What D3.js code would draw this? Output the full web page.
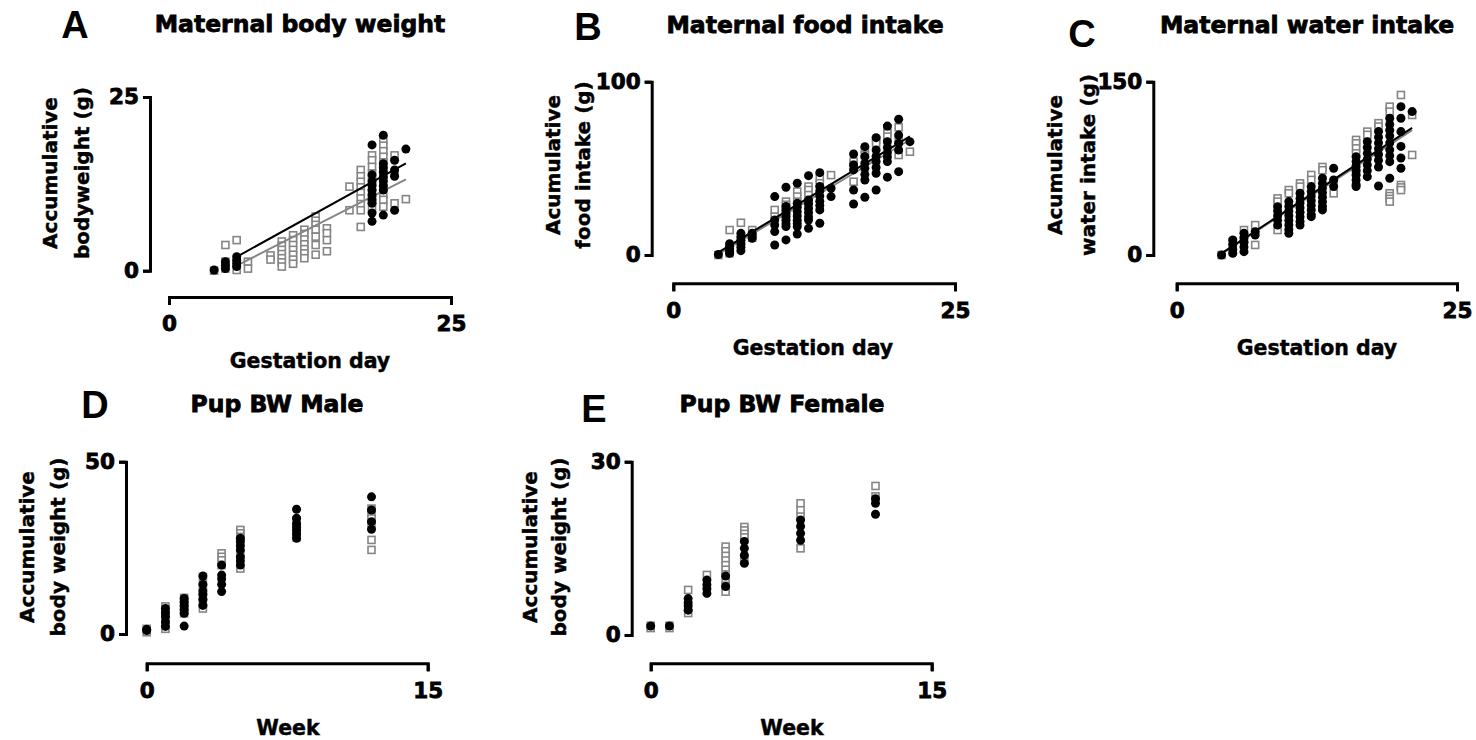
<!DOCTYPE html>
<html>
<head>
<meta charset="utf-8">
<script src="https://cdn.jsdelivr.net/npm/d3@7"></script>
<style>
  body { margin: 0; background: #fff; }
  text { font-family: "DejaVu Sans", "Liberation Sans", sans-serif; font-weight: 700; fill: #000; }
  .heavy { stroke: #000; stroke-width: 0.8px; }
  .semi { stroke: #000; stroke-width: 0.45px; }
</style>
</head>
<body>
<div id="viz"></div>
<script>
// ---- data ----
// maternal panels: gestation days
const gestDays = [4, 5, 6, 7, 9, 10, 11, 12, 13, 14, 16, 17, 18, 19, 20, 21];
// pup panels: weeks
const pupWeeks = [0, 1, 2, 3, 4, 5, 8, 12];

// A: maternal body weight (g)
const bwBlack = [[0.1], [1.3, 0.8, 0.3], [2.0, 1.5, 1.05, 0.6], [], [], [], [], [], [], [], [], [],
  [18.1, 13.8, 12.9, 12.3, 11.6, 10.9, 10.2, 9.7, 8.3, 7.1],
  [19.5, 15.4, 14.8, 14.2, 13.5, 12.9, 12.2, 11.6, 8.0],
  [15.9, 14.5, 13.6, 8.7], [17.5]];
const bwGray = [[0], [3.7, 1.3, 0.3], [4.4, 0.1], [1.3, 0.3], [2.2, 1.6],
  [4.2, 3.6, 3.0, 2.4, 1.8, 1.2, 0.6], [5.1, 4.4, 3.7, 3.0, 2.3, 1.6, 1.0],
  [5.9, 5.3, 4.5, 3.8, 3.1, 2.5, 1.8], [7.8, 7.2, 6.6, 5.9, 4.9, 3.7, 2.3],
  [6.1, 5.4, 4.4, 2.8], [12.1, 8.7],
  [14.5, 13.6, 12.8, 12.0, 11.2, 10.4, 9.6, 8.7, 6.3],
  [16.6, 15.9, 14.95, 14.0, 13.1, 12.1, 11.1, 10.2, 9.0],
  [18.8, 18.0, 17.2, 16.4, 15.6, 14.5, 13.3, 12.0, 11.0, 10.2, 9.2],
  [16.6, 14.0, 9.7], [10.3]];
const bwFitBlack = [[6, 2.0], [21, 15.45]];
const bwFitGray = [[6, 0.73], [21, 13.15]];

// B: maternal food intake (g)
const fiBlack = [[0.3], [6.5, 5, 3.5, 2, 1], [12.5, 10.5, 8.5, 6.5, 4.5, 2.5], [12.5, 11, 9.6],
  [33.7, 20.2, 17.3, 13.5, 5.8], [39.1, 28, 26, 24, 22, 20, 18, 16.4, 8.7],
  [41.4, 29.8, 27.5, 25, 22.5, 20, 18, 16.4, 12.1], [45.8, 31.7, 29.5, 27, 24.5, 22, 20.2, 15.4],
  [47.5, 39.5, 37, 34, 31, 28.5, 26, 18.3], [38.5, 33.7],
  [58.3, 52, 49.1, 37.5, 29.4], [62.5, 56.8, 53, 50, 46.5, 43.3, 33.3],
  [67.7, 60.6, 57, 54, 50.5, 47.2, 37.5], [74.4, 65.4, 62, 59, 56.5, 53.9, 44.9],
  [78.3, 69.2, 64.5, 60.6, 48.1], [65.4]];
const fiGray = [[0], [14.4, 4.8, 1], [18.6, 8], [14.4, 10], [26.0, 22.1], [30.8, 29, 26, 23],
  [36.6, 33.7, 30.8], [39.5, 37.5, 34.6, 31.7], [44.2, 41.4], [46.1],
  [53.9, 52, 42.3], [60.6, 57.7], [66.4, 64.5], [73.1, 70.2, 68.3], [73.7, 66.4, 57.7], [59.6]];
const fiFitBlack = [[4, 1.5], [21, 68.5]];
const fiFitGray = [[4, 0.5], [21, 66.5]];

// C: maternal water intake (g)
const wiBlack = [[0], [13, 9, 5, 1.5], [18.8, 15, 11, 7, 2.9], [20.2, 17.3],
  [41.8, 38, 34, 30, 25.9], [46.2, 42, 38, 34, 30, 26, 22, 18.8],
  [53.4, 49, 45, 41, 37, 33, 29, 25.9], [59.2, 55, 51, 47, 43, 39, 35, 33.2],
  [66.4, 62, 58, 54, 50, 46, 42, 39], [75.1, 65, 59.2],
  [85.1, 81, 77, 73, 69, 65, 61, 59.2], [98.1, 93, 88, 83, 78, 73, 67.8],
  [106.8, 102, 97, 92, 87, 82, 76.2, 59.7], [118.4, 113, 108, 103, 97, 91, 86, 80.8, 66.4],
  [128.4, 118.4, 106.8, 94, 84, 75.1], [124.1]];
const wiGray = [[0], [11.5, 4], [21.6, 13], [25.9, 8.7], [49.0, 46.2, 21.6], [56.2, 53.4],
  [62, 59.2], [69.3, 65], [76.2, 73.4], [63, 53.4], [99.6, 96.7, 92.3, 88, 73],
  [106.8, 104], [114.1, 111.2], [128.4, 124.1, 53.4, 51, 48.6, 46.2],
  [138.5, 60.6, 58.5, 56.2], [121.2, 86.6]];
const wiFitBlack = [[4, 1.4], [21, 110]];
const wiFitGray = [[4, 1.0], [21, 108]];

// D: pup body weight, male (g)
const pmBlack = [[1.35, 1.0], [7.4, 6.2, 5.0, 3.5, 2.2], [10.3, 9.2, 8.2, 7.1, 6.0, 2.3],
  [16.8, 14.4, 12.5, 11.5, 10, 8.3], [20.0, 17.1, 16, 14.4, 12.3],
  [27.8, 26.8, 25.6, 24.4, 22.4, 21.2, 20.0], [36.2, 33.6, 32, 31, 30, 29, 27.8],
  [39.8, 36.0, 32.6, 30.4]];
const pmGray = [[1.5, 0.5], [8, 6, 4, 1.5], [10.5, 9, 7.5, 6], [16.6, 14, 11, 9, 7.4],
  [23.4, 22.4, 21.4, 20], [30.2, 29.2, 28.2, 23, 19.0], [33, 31, 29, 28],
  [36.4, 35, 33.5, 32.1, 27.3, 24.4]];

// E: pup body weight, female (g)
const pfBlack = [[1.55], [1.55], [6.3, 5.6, 5, 4.3], [9.5, 8.7, 8, 7.2], [10.2, 8.4],
  [16.2, 15, 13.8, 12.4], [19.9, 18.8, 17.6, 16.4], [23.6, 22.8, 20.9]];
const pfGray = [[1.6, 1.2], [1.6, 1.2], [7.8, 3.8], [10.4],
  [15.3, 14.5, 13.7, 12.9, 12.1, 11.3, 10.5, 9.7, 8.5, 7.5],
  [18.7, 18.1, 17.5, 16.9, 13], [22.8, 21.6, 20.5, 15.0], [25.8, 24]];

// ---- drawing ----
const W = 1476, H = 740;
const svg = d3.select("#viz")
  .append("svg")
  .attr("width", W)
  .attr("height", H);

const grayCol = "#858585";

const panels = [
  { letter: "A", title: "Maternal body weight", yTitle: ["Accumulative", "bodyweight (g)"], xTitle: "Gestation day",
    xs: gestDays, black: bwBlack, gray: bwGray, fitB: bwFitBlack, fitG: bwFitGray, xDom: [0, 25], yDom: [0, 25],
    box: { xr: [169, 451], yr: [270.7, 97], yAx: 150, xAx: 297, let: [75, 38], tit: [300, 32], yt: [57, 89], ytc: 173, xt: [310, 368] } },
  { letter: "B", title: "Maternal food intake", yTitle: ["Acumulative", "food intake (g)"], xTitle: "Gestation day",
    xs: gestDays, black: fiBlack, gray: fiGray, fitB: fiFitBlack, fitG: fiFitGray, xDom: [0, 25], yDom: [0, 100],
    box: { xr: [673.3, 955], yr: [255, 81.7], yAx: 651.7, xAx: 283.3, let: [588, 40], tit: [805, 33], yt: [560, 590], ytc: 165, xt: [813, 355] } },
  { letter: "C", title: "Maternal water intake", yTitle: ["Acumulative", "water intake (g)"], xTitle: "Gestation day",
    xs: gestDays, black: wiBlack, gray: wiGray, fitB: wiFitBlack, fitG: wiFitGray, xDom: [0, 25], yDom: [0, 150],
    box: { xr: [1176.7, 1457], yr: [255, 81.7], yAx: 1153.3, xAx: 283.3, let: [1082, 47], tit: [1307, 33], yt: [1062, 1095], ytc: 165, xt: [1317, 355] } },
  { letter: "D", title: "Pup BW Male", yTitle: ["Accumulative", "body weight (g)"], xTitle: "Week",
    xs: pupWeeks, black: pmBlack, gray: pmGray, fitB: null, fitG: null, xDom: [0, 15], yDom: [0, 50],
    box: { xr: [146.7, 427.7], yr: [634, 461.7], yAx: 126, xAx: 663.3, let: [95, 418], tit: [277, 412], yt: [34, 65], ytc: 547, xt: [288, 735] } },
  { letter: "E", title: "Pup BW Female", yTitle: ["Accumulative", "body weight (g)"], xTitle: "Week",
    xs: pupWeeks, black: pfBlack, gray: pfGray, fitB: null, fitG: null, xDom: [0, 15], yDom: [0, 30],
    box: { xr: [650.7, 931.7], yr: [635, 461.7], yAx: 631.7, xAx: 663.3, let: [594, 422], tit: [782, 412], yt: [537, 566], ytc: 547, xt: [792, 735] } }
];

const flatten = (xs, vals) => xs.flatMap((x, i) => vals[i].map(v => ({ x: x, y: v })));

panels.forEach(p => {
  const b = p.box;
  const g = svg.append("g");
  const x = d3.scaleLinear().domain(p.xDom).range(b.xr);
  const y = d3.scaleLinear().domain(p.yDom).range(b.yr);

  // panel letter + title
  g.append("text").attr("x", b.let[0]).attr("y", b.let[1])
    .attr("text-anchor", "middle")
    .style("font-family", "'Liberation Sans', Arial, sans-serif").style("font-weight", 700)
    .style("font-size", "38px").text(p.letter);
  g.append("text").attr("class", "heavy").attr("x", b.tit[0]).attr("y", b.tit[1])
    .attr("text-anchor", "middle").style("font-size", "23.5px").text(p.title);

  // axes
  const yAxis = d3.axisLeft(y).tickValues(p.yDom).tickSize(7).tickSizeOuter(7).tickPadding(4);
  const xAxis = d3.axisBottom(x).tickValues(p.xDom).tickSize(8).tickSizeOuter(8).tickPadding(11);
  const ya = g.append("g").attr("transform", `translate(${b.yAx},0)`).call(yAxis);
  const xa = g.append("g").attr("transform", `translate(0,${b.xAx})`).call(xAxis);
  [ya, xa].forEach(a => {
    a.selectAll("path, line").attr("stroke", "#000").attr("stroke-width", 3);
    a.selectAll("text").attr("class", "heavy")
      .style("font-size", "21.5px").style("font-family", "'DejaVu Sans', sans-serif").style("font-weight", 700).attr("fill", "#000");
  });

  // axis titles
  g.append("text").attr("class", "semi").attr("x", b.xt[0]).attr("y", b.xt[1])
    .attr("text-anchor", "middle").style("font-size", "20.5px").text(p.xTitle);
  p.yTitle.forEach((t, i) => {
    g.append("text").attr("class", "semi")
      .attr("transform", `translate(${b.yt[i]},${b.ytc}) rotate(-90)`)
      .attr("text-anchor", "middle").style("font-size", "20px").text(t);
  });

  // gray squares
  g.selectAll("rect.sq").data(flatten(p.xs, p.gray)).enter()
    .append("rect").attr("class", "sq")
    .attr("x", d => x(d.x) - 3.5).attr("y", d => y(d.y) - 3.5)
    .attr("width", 7).attr("height", 7)
    .attr("fill", "#fff").attr("stroke", grayCol).attr("stroke-width", 1.6);

  // fit lines
  const line = d3.line().x(d => x(d[0])).y(d => y(d[1]));
  if (p.fitG) g.append("path").attr("d", line(p.fitG)).attr("stroke", grayCol).attr("stroke-width", 2).attr("fill", "none");
  if (p.fitB) g.append("path").attr("d", line(p.fitB)).attr("stroke", "#000").attr("stroke-width", 2).attr("fill", "none");

  // black circles
  g.selectAll("circle.pt").data(flatten(p.xs, p.black)).enter()
    .append("circle").attr("class", "pt")
    .attr("cx", d => x(d.x)).attr("cy", d => y(d.y)).attr("r", 4.5)
    .attr("fill", "#000");
});
</script>
</body>
</html>
